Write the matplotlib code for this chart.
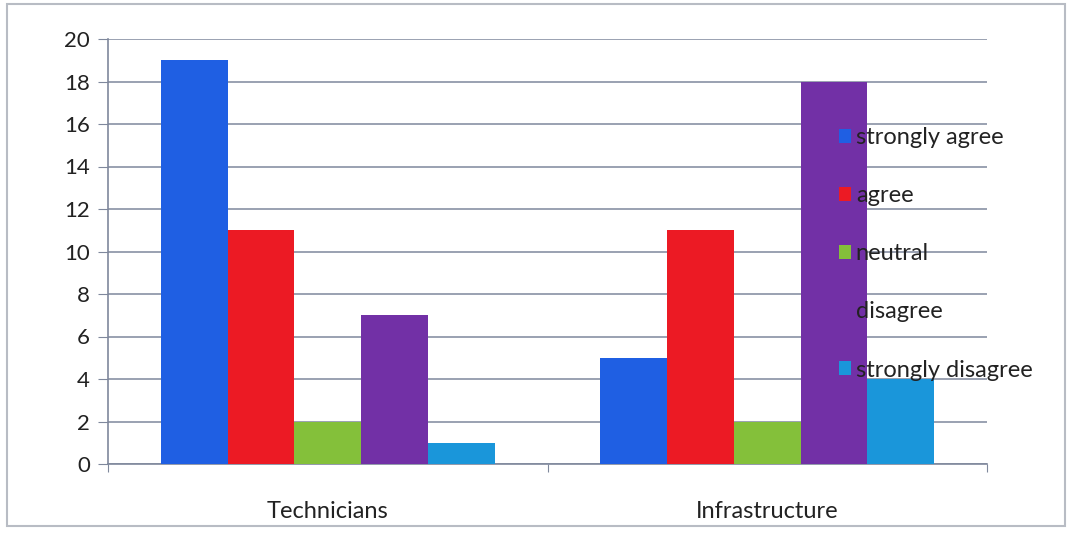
import matplotlib
matplotlib.use("Agg")
import matplotlib.pyplot as plt
from matplotlib.patches import Rectangle, Patch
import numpy as np

categories = ["Technicians", "Infrastructure"]
series = ["strongly agree", "agree", "neutral", "disagree", "strongly disagree"]
values = {
    "strongly agree": [19, 5],
    "agree": [11, 11],
    "neutral": [2, 2],
    "disagree": [7, 18],
    "strongly disagree": [1, 4],
}
colors = ["#1f5fe3", "#ec1a24", "#84c03a", "#7230a6", "#1a96da"]
yticks = [0, 2, 4, 6, 8, 10, 12, 14, 16, 18, 20]

plt.rcParams["font.family"] = ["Lato", "DejaVu Sans"]

W, H = 1071, 534
fig = plt.figure(figsize=(W / 100, H / 100), dpi=100)
fig.patch.set_facecolor("white")

# chart frame
fig.add_artist(Rectangle((7 / W, 8 / H), 1058 / W, 522 / H, transform=fig.transFigure,
                         fill=False, edgecolor="#b8bcc4", linewidth=1.5))

ax = fig.add_axes([108 / W, 1 - 464 / H, (987 - 108) / W, (464 - 39) / H])
ax.set_facecolor("none")

n = len(series)
bw = 0.152
x = np.arange(len(categories)) + 0.5
for i, (name, c) in enumerate(zip(series, colors)):
    off = (i - (n - 1) / 2) * bw
    ax.bar(x + off, values[name], width=bw, color=c, label=name, zorder=3)

ax.set_xlim(0, len(categories))
ax.set_ylim(0, 20)
ax.set_yticks(yticks)
ax.set_yticklabels([str(v) for v in yticks], fontsize=16, color="#222222")
ax.yaxis.grid(True, color="#7f889c", linewidth=1.1, zorder=1)
ax.set_axisbelow(True)

ax.set_xticks([0, 1, 2])
ax.set_xticklabels([])
ax.set_xticks(x, minor=True)
ax.set_xticklabels(categories, minor=True, fontsize=17, color="#222222")
ax.tick_params(axis="x", which="minor", length=0, pad=27)
ax.tick_params(axis="x", which="major", length=6, color="#7f889c", direction="out")
ax.tick_params(axis="y", length=7, color="#7f889c", direction="out", pad=6)

for s in ["top", "right"]:
    ax.spines[s].set_visible(False)
ax.spines["left"].set_color("#7f889c")
ax.spines["bottom"].set_color("#7f889c")
ax.spines["left"].set_linewidth(1.2)
ax.spines["bottom"].set_linewidth(1.2)

handles = [Patch(facecolor=c, edgecolor="none") for c in colors]
leg = ax.legend(handles, series, loc="upper left", bbox_to_anchor=(818 / W, 1 - 106 / H),
                bbox_transform=fig.transFigure, frameon=False, fontsize=17,
                handlelength=0.5, handleheight=0.5, handletextpad=0.2,
                labelspacing=1.57, labelcolor="#222222")
leg.set_zorder(5)

fig.savefig("out.png", dpi=100, facecolor="white")
